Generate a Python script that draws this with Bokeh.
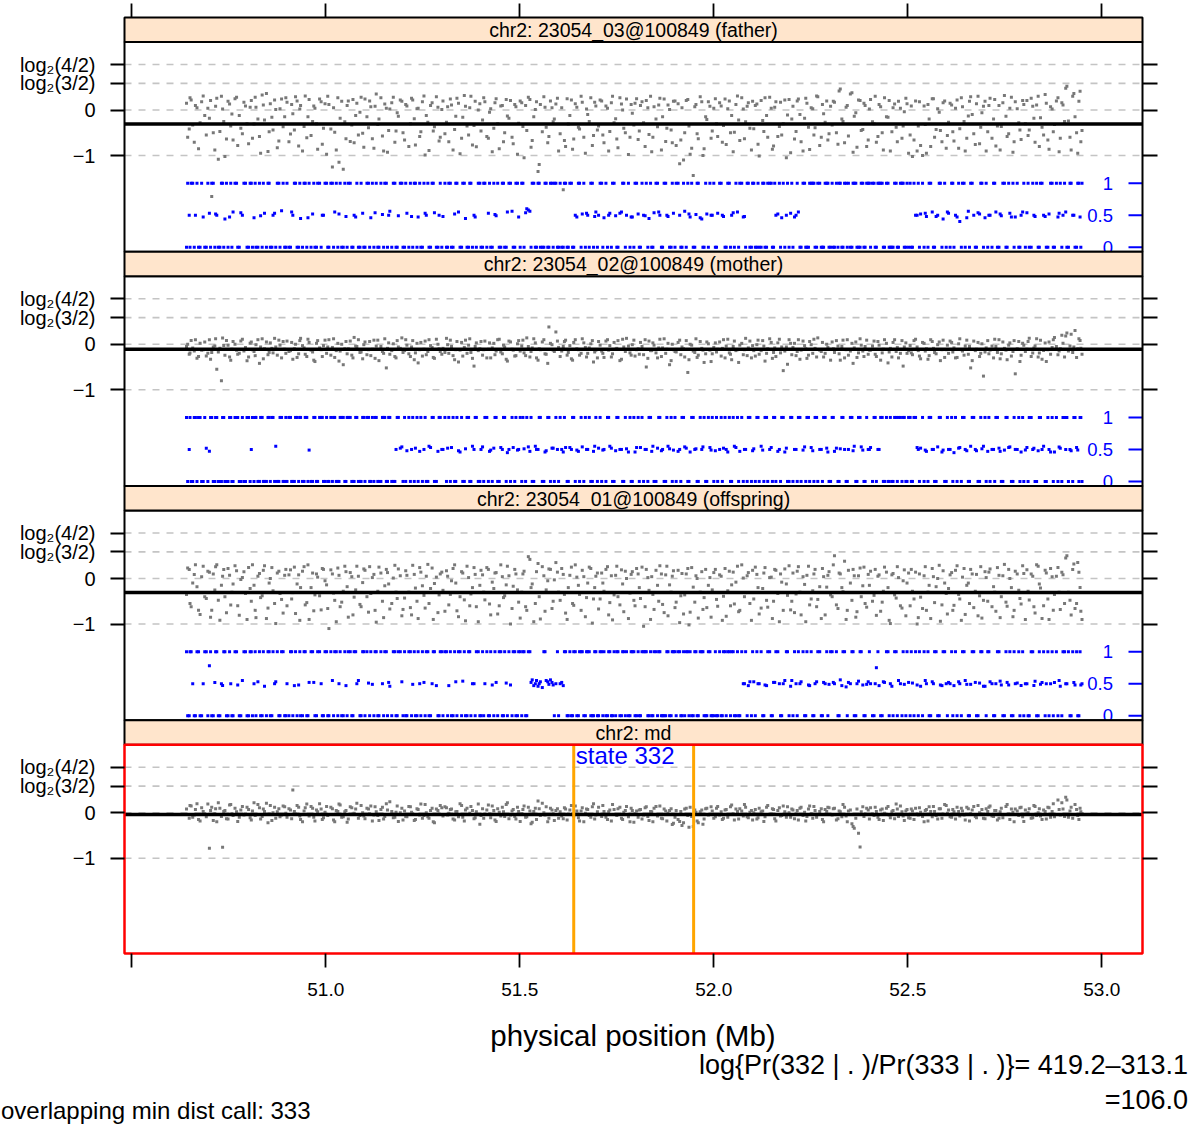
from bokeh.plotting import figure
from bokeh.layouts import column
from bokeh.models import Range1d, LinearAxis, FixedTicker, Div
from bokeh.core.properties import value
from bokeh.embed import file_html
from bokeh.resources import INLINE

# ---------------------------------------------------------------- data
# marker positions (Mb); two interleaved marker sets, one row per 0.1 Mb
pos_mb = [
    50.641, 50.648, 50.653, 50.661, 50.668, 50.676, 50.684, 50.692,
    50.700, 50.706, 50.714, 50.719, 50.727, 50.734, 50.740, 50.748, 50.755, 50.761, 50.770, 50.777, 50.785, 50.793,
    50.801, 50.808, 50.815, 50.820, 50.829, 50.836, 50.842, 50.851, 50.857, 50.864, 50.871, 50.879, 50.886, 50.894,
    50.900, 50.909, 50.915, 50.922, 50.930, 50.935, 50.944, 50.951, 50.957, 50.966, 50.972, 50.979, 50.988, 50.994,
    51.002, 51.008, 51.017, 51.023, 51.031, 51.037, 51.045, 51.052, 51.058, 51.067, 51.073, 51.080, 51.088, 51.095,
    51.101, 51.110, 51.116, 51.124, 51.130, 51.137, 51.146, 51.152, 51.159, 51.165, 51.174, 51.181, 51.187, 51.196,
    51.203, 51.209, 51.218, 51.224, 51.231, 51.238, 51.245, 51.253, 51.259, 51.266, 51.274, 51.280, 51.289, 51.295,
    51.302, 51.311, 51.317, 51.324, 51.332, 51.338, 51.346, 51.353, 51.360, 51.368, 51.374, 51.382, 51.388, 51.397,
    51.404, 51.410, 51.419, 51.425, 51.433, 51.439, 51.447, 51.455, 51.461, 51.468, 51.476, 51.483, 51.490, 51.497,
    51.505, 51.511, 51.518, 51.526, 51.532, 51.540, 51.547, 51.553, 51.562, 51.568, 51.575, 51.583, 51.589, 51.597,
    51.604, 51.612, 51.618, 51.625, 51.633, 51.639, 51.647, 51.654, 51.661, 51.669, 51.675, 51.683, 51.690, 51.696,
    51.703, 51.711, 51.717, 51.726, 51.732, 51.739, 51.747, 51.753, 51.762, 51.768, 51.775, 51.784, 51.790, 51.797,
    51.805, 51.811, 51.819, 51.826, 51.833, 51.840, 51.846, 51.855, 51.861, 51.868, 51.876, 51.882, 51.890, 51.896,
    51.903, 51.912, 51.918, 51.925, 51.933, 51.939, 51.947, 51.954, 51.960, 51.969, 51.975, 51.982, 51.990, 51.996,
    52.004, 52.010, 52.019, 52.025, 52.032, 52.040, 52.046, 52.053, 52.061, 52.067, 52.076, 52.082, 52.089, 52.097,
    52.103, 52.111, 52.117, 52.126, 52.132, 52.139, 52.148, 52.154, 52.160, 52.169, 52.175, 52.183, 52.190, 52.198,
    52.204, 52.212, 52.218, 52.225, 52.234, 52.240, 52.247, 52.255, 52.261, 52.268, 52.277, 52.283, 52.291, 52.297,
    52.305, 52.311, 52.320, 52.326, 52.333, 52.341, 52.347, 52.356, 52.362, 52.369, 52.377, 52.384, 52.390, 52.398,
    52.404, 52.413, 52.419, 52.426, 52.434, 52.440, 52.449, 52.455, 52.462, 52.470, 52.476, 52.485, 52.491, 52.498,
    52.506, 52.512, 52.520, 52.527, 52.533, 52.542, 52.548, 52.555, 52.563, 52.569, 52.577, 52.584, 52.591, 52.599,
    52.605, 52.613, 52.619, 52.627, 52.634, 52.641, 52.648, 52.656, 52.662, 52.670, 52.677, 52.685, 52.691, 52.699,
    52.706, 52.712, 52.721, 52.727, 52.735, 52.741, 52.749, 52.756, 52.763, 52.771, 52.777, 52.786, 52.792, 52.799,
    52.807, 52.813, 52.822, 52.828, 52.836, 52.842, 52.850, 52.857, 52.864, 52.872, 52.878, 52.887, 52.893, 52.900,
    52.907, 52.914, 52.921, 52.928, 52.935, 52.941, 52.946,
    50.644, 50.650, 50.657, 50.664, 50.672, 50.680, 50.688, 50.696,
    50.703, 50.710, 50.716, 50.723, 50.731, 50.737, 50.744, 50.752, 50.758, 50.766, 50.773, 50.781, 50.789, 50.797,
    50.805, 50.811, 50.818, 50.825, 50.832, 50.839, 50.847, 50.854, 50.861, 50.868, 50.875, 50.882, 50.890, 50.897,
    50.905, 50.912, 50.919, 50.926, 50.933, 50.940, 50.947, 50.954, 50.962, 50.969, 50.976, 50.984, 50.991, 50.998,
    51.005, 51.013, 51.020, 51.027, 51.034, 51.041, 51.049, 51.055, 51.063, 51.070, 51.077, 51.084, 51.091, 51.098,
    51.106, 51.113, 51.120, 51.127, 51.134, 51.142, 51.149, 51.156, 51.162, 51.170, 51.178, 51.184, 51.192, 51.199,
    51.206, 51.214, 51.221, 51.228, 51.235, 51.242, 51.249, 51.256, 51.263, 51.270, 51.277, 51.285, 51.292, 51.299,
    51.307, 51.314, 51.321, 51.328, 51.335, 51.342, 51.350, 51.357, 51.364, 51.371, 51.378, 51.385, 51.393, 51.400,
    51.407, 51.415, 51.422, 51.429, 51.436, 51.443, 51.451, 51.458, 51.465, 51.472, 51.480, 51.487, 51.494, 51.501,
    51.508, 51.515, 51.522, 51.529, 51.536, 51.543, 51.550, 51.558, 51.565, 51.572, 51.579, 51.586, 51.593, 51.600,
    51.608, 51.615, 51.622, 51.629, 51.636, 51.643, 51.651, 51.658, 51.665, 51.672, 51.679, 51.687, 51.693, 51.700,
    51.707, 51.714, 51.722, 51.729, 51.736, 51.743, 51.750, 51.758, 51.765, 51.772, 51.780, 51.787, 51.794, 51.801,
    51.808, 51.815, 51.823, 51.830, 51.837, 51.843, 51.851, 51.858, 51.865, 51.872, 51.879, 51.886, 51.893, 51.900,
    51.908, 51.915, 51.922, 51.929, 51.936, 51.943, 51.951, 51.957, 51.965, 51.972, 51.979, 51.986, 51.993, 52.000,
    52.007, 52.015, 52.022, 52.029, 52.036, 52.043, 52.050, 52.057, 52.064, 52.072, 52.079, 52.086, 52.093, 52.100,
    52.107, 52.114, 52.122, 52.129, 52.136, 52.144, 52.151, 52.157, 52.165, 52.172, 52.179, 52.187, 52.194, 52.201,
    52.208, 52.215, 52.222, 52.230, 52.237, 52.244, 52.251, 52.258, 52.265, 52.273, 52.280, 52.287, 52.294, 52.301,
    52.308, 52.316, 52.323, 52.330, 52.337, 52.344, 52.352, 52.359, 52.366, 52.373, 52.380, 52.387, 52.394, 52.401,
    52.409, 52.416, 52.423, 52.430, 52.437, 52.445, 52.452, 52.459, 52.466, 52.473, 52.481, 52.488, 52.495, 52.502,
    52.509, 52.516, 52.524, 52.530, 52.538, 52.545, 52.552, 52.559, 52.566, 52.573, 52.581, 52.588, 52.595, 52.602,
    52.609, 52.616, 52.623, 52.631, 52.638, 52.645, 52.652, 52.659, 52.666, 52.674, 52.681, 52.688, 52.695, 52.702,
    52.709, 52.717, 52.724, 52.731, 52.738, 52.745, 52.753, 52.760, 52.767, 52.774, 52.782, 52.789, 52.796, 52.803,
    52.810, 52.818, 52.825, 52.832, 52.839, 52.846, 52.854, 52.861, 52.868, 52.875, 52.883, 52.890, 52.897, 52.904,
    52.910, 52.918, 52.925, 52.931, 52.938, 52.944, 52.949,
]

# log R ratio per sample
lrr_father = [
    0.15, -0.42, 0.22, -0.71, 0.05, -0.28, 0.31, -0.55,
    -0.18, -1.9, -0.88, 0.26, -0.47, 0.02, -1.02, 0.19, -0.35, -0.66, 0.28, -0.12, -0.52, 0.09,
    -0.74, 0.21, -0.31, 0.06, -0.58, 0.33, -0.22, -0.91, 0.14, -0.44, 0.01, -0.68, 0.24, -0.15,
    0.17, -0.53, -0.08, 0.29, -0.79, 0.1, -0.36, -0.61, 0.23, -0.25, 0.04, -0.86, 0.18, -0.4,
    -0.97, 0.12, -1.25, -0.49, 0.27, -0.18, -1.3, -0.63, 0.2, -0.33, -0.72, 0.15, -0.05, -0.51,
    0.24, -0.39, 0.07, -0.84, 0.35, -0.2, -0.57, 0.13, -0.93, 0.02, 0.28, -0.46, -0.14, 0.19,
    -0.66, 0.09, -0.3, 0.22, -0.77, 0.04, -0.48, 0.31, -0.12, -0.89, 0.16, -0.37, 0.06, -0.6,
    0.2, -0.27, -0.7, 0.11, -0.43, 0.26, -0.96, -0.16, 0.08, -0.55, 0.3, -0.34, -0.81, 0.14,
    -0.22, 0.18, -0.62, 0.03, -0.4, 0.25, -0.85, 0.1, -0.5, -0.13, 0.21, -0.74, 0.07, -0.29,
    0.16, -1.05, -0.45, 0.23, -0.67, 0.01, -1.35, 0.12, 0.29, -0.38, -0.58, 0.05, -0.2, 0.26,
    -0.52, -1.75, -0.8, -0.31, 0.22, -0.64, 0.06, -0.42, 0.17, -0.95, -0.1, 0.27, -0.56, 0.09,
    -0.35, 0.2, -0.72, 0.04, -0.47, 0.3, -0.19, -0.83, 0.13, -0.4, 0.24, -0.6, -0.07, 0.15,
    -0.65, 0.1, -0.28, 0.21, -0.54, -0.92, 0.07, -0.37, 0.26, -0.15, -0.69, 0.11, -0.44, 0.19,
    -0.78, -1.18, 0.05, -0.5, 0.23, -0.97, -1.44, 0.12, -0.63, 0.18, -0.85, -0.21, 0.08, -0.46,
    0.25, -0.58, 0.09, -0.34, -0.76, 0.2, -0.12, -0.49, 0.31, -0.67, 0.02, -0.26, 0.16, -0.88,
    -0.41, 0.13, -1.01, -0.23, 0.27, -0.6, 0.04, -0.79, 0.18, -0.36, -0.55, 0.22, -0.11, -0.94,
    0.08, -0.47, 0.24, -0.7, -0.18, 0.15, -0.87, 0.03, -0.39, 0.29, -0.6, -0.08, 0.2, -0.52,
    -0.33, 0.17, -0.75, 0.46, -0.25, 0.06, -0.57, 0.38, -0.14, -0.82, 0.21, -0.43, 0.1, -0.66,
    0.23, -0.3, -0.71, 0.12, -0.5, 0.27, -0.16, -0.9, 0.05, -0.38, 0.19, -0.62, -0.04, 0.14,
    -0.55, -1.02, 0.2, -0.35, -0.78, 0.09, -0.95, -0.2, 0.25, -0.6, 0.03, -0.45, 0.16, -0.84,
    -0.27, 0.11, -0.68, 0.22, -0.41, 0.07, -0.9, -0.13, 0.29, -0.52, 0.14, -0.74, -0.06, 0.19,
    -0.48, 0.26, -0.2, -0.79, 0.1, -0.36, 0.32, -0.58, 0.04, -0.93, 0.18, -0.28, -0.65, 0.12,
    0.21, -0.44, 0.08, -0.71, 0.3, -0.17, -0.55, 0.15, -0.86, 0.02, -0.32, 0.27, -0.62, 0.11,
    0.48, -0.24, -0.88, 0.36, -0.5, 0.19, -0.7,
    -0.6, 0.27, -0.33, 0.1, -0.85, 0.18, -0.12, 0.04,
    0.21, -0.5, 0.08, -1.08, 0.3, -0.25, -0.64, 0.13, -0.09, 0.25, -0.78, -0.4, 0.17, -0.3,
    0.06, -0.62, 0.28, -0.2, -0.95, 0.11, 0.36, -0.48, -0.16, 0.22, -0.83, 0.03, -0.37, 0.27,
    -0.7, 0.12, -0.44, 0.2, 0.02, -0.9, 0.31, -0.15, -0.56, 0.09, -0.3, 0.24, -0.75, 0.14,
    0.3, -0.42, 0.05, -0.88, -1.15, 0.19, -0.26, 0.1, -0.69, 0.23, -0.12, -0.55, 0.28, -0.82,
    -0.15, 0.2, -0.63, 0.08, -0.32, 0.27, -0.9, 0.04, -0.45, 0.16, -0.71, -0.06, 0.22, -0.5,
    0.12, -0.8, 0.26, -0.19, 0.03, -0.58, 0.18, -0.99, -0.27, 0.1, -0.46, 0.29, -0.68, 0.01,
    -0.52, 0.07, 0.24, -0.88, -0.14, 0.15, -0.62, 0.32, -0.35, 0.05, -0.77, 0.19, 0.0, -0.46,
    0.27, -0.58, -0.05, -0.92, 0.16, -0.3, 0.09, -0.7, 0.23, -0.18, -0.6, 0.12, -0.97, 0.2,
    -0.36, 0.1, 0.28, -0.82, -0.15, 0.18, -1.2, -0.48, 0.06, -0.72, 0.2, -0.26, 0.13, -0.9,
    0.05, -0.67, 0.25, -0.12, -0.86, 0.14, -0.38, 0.3, -0.6, 0.02, -0.25, -0.78, 0.17, -0.44,
    0.22, -0.55, 0.09, -0.9, 0.16, -0.28, -0.64, 0.27, 0.0, -0.5, -0.98, 0.12, -0.33, 0.25,
    -0.46, 0.18, -0.8, 0.05, 0.3, -0.6, -0.2, 0.11, -0.88, 0.24, -0.4, 0.01, -0.72, 0.2,
    0.14, -0.66, -1.1, 0.21, -0.35, -0.84, 0.07, -0.52, 0.29, -1.0, -0.15, 0.18, -0.62, 0.04,
    -0.3, 0.16, -0.71, 0.24, 0.03, -0.5, -0.92, 0.12, -0.22, 0.27, -0.63, 0.08, -0.4, 0.19,
    0.1, -0.75, 0.21, -0.47, -0.12, 0.28, -0.86, 0.06, -0.58, 0.17, -0.3, -1.05, 0.23, -0.2,
    -0.64, 0.2, -0.1, -0.9, 0.26, -0.38, 0.05, -0.55, 0.31, -0.78, 0.12, -0.27, -0.66, 0.08,
    0.19, -0.5, 0.42, -0.2, -0.72, 0.1, 0.35, -0.93, -0.06, 0.22, -0.45, 0.15, -0.8, 0.02,
    -0.26, 0.3, -0.58, 0.07, -0.88, -0.15, 0.21, -0.48, 0.13, -0.7, 0.04, -0.35, 0.26, -0.95,
    0.09, -0.66, -0.9, 0.18, -1.0, -0.32, 0.12, -0.8, 0.25, -0.43, -0.05, -0.7, 0.2, -0.56,
    0.15, -0.48, 0.04, -0.84, 0.27, -0.25, -0.62, 0.19, -0.1, -0.76, 0.3, -0.38, 0.08, -0.9,
    0.1, -0.62, 0.23, -0.35, -0.88, 0.16, -0.14, -0.52, 0.28, -0.7, 0.03, -0.44, 0.21, -0.3,
    -0.56, 0.26, -0.18, 0.11, -0.8, -0.38, 0.34, -0.66, 0.07, -0.48, 0.2, -0.92, 0.16, -0.25,
    0.52, -0.6, 0.3, -0.15, -0.95, 0.41, -0.45,
]
lrr_mother = [
    -0.05, -0.22, 0.08, -0.15, -0.31, 0.02, -0.12, -0.26,
    0.1, -0.18, -0.04, -0.55, -0.09, 0.14, -0.24, -0.02, -0.35, 0.06, -0.13, -0.2, 0.11, -0.07,
    -0.28, 0.05, -0.16, -0.01, -0.42, 0.12, -0.1, -0.23, 0.03, -0.19, -0.06, 0.09, -0.3, -0.11,
    0.07, -0.14, -0.33, 0.0, -0.21, 0.13, -0.08, -0.27, 0.04, -0.17, -0.38, 0.08, -0.12, -0.03,
    -0.2, 0.1, -0.07, -0.29, 0.02, -0.15, -0.45, 0.06, -0.1, -0.24, 0.15, -0.05, -0.18, -0.32,
    0.05, -0.12, -0.25, 0.09, -0.04, -0.36, -0.16, 0.12, -0.09, -0.22, 0.01, -0.3, -0.06, 0.14,
    -0.14, -0.02, -0.27, 0.08, -0.19, -0.41, 0.04, -0.11, -0.23, 0.1, -0.07, -0.31, 0.0, -0.16,
    -0.09, 0.13, -0.2, -0.05, -0.34, 0.06, -0.13, -0.26, 0.09, -0.02, -0.18, -0.48, 0.03, -0.1,
    -0.24, 0.07, -0.11, -0.3, 0.02, -0.15, 0.11, -0.21, -0.06, -0.37, 0.05, -0.13, -0.25, 0.08,
    -0.04, -0.19, 0.14, -0.28, -0.08, 0.03, -0.35, -0.12, 0.1, -0.22, 0.38, -0.01, -0.16, 0.07,
    -0.27, -0.05, 0.09, -0.18, -0.32, 0.04, -0.1, -0.24, 0.12, -0.07, -0.2, 0.01, -0.39, -0.13,
    0.06, -0.15, -0.29, 0.1, -0.03, -0.21, -0.11, 0.08, -0.33, -0.06, 0.13, -0.19, -0.01, -0.26,
    -0.1, 0.04, -0.23, -0.5, 0.07, -0.14, -0.02, -0.3, 0.11, -0.08, -0.2, 0.02, -0.36, -0.12,
    -0.17, 0.09, -0.06, -0.28, -0.62, 0.0, -0.15, 0.12, -0.24, -0.09, -0.4, 0.05, -0.13, -0.21,
    0.03, -0.11, -0.26, 0.1, -0.04, -0.19, -0.34, 0.07, -0.12, -0.02, -0.23, 0.13, -0.08, -0.3,
    -0.14, -0.01, -0.22, 0.08, -0.37, -0.1, 0.04, -0.18, -0.27, 0.11, -0.06, -0.15, -0.44, 0.02,
    -0.07, -0.25, 0.1, -0.13, -0.03, -0.31, 0.06, -0.2, -0.09, 0.14, -0.16, -0.28, 0.0, -0.11,
    0.05, -0.18, -0.04, -0.35, 0.09, -0.12, -0.24, 0.02, -0.08, -0.29, 0.12, -0.15, -0.05, -0.22,
    -0.13, 0.07, -0.27, -0.02, -0.19, 0.1, -0.41, -0.09, 0.04, -0.16, -0.3, 0.08, -0.06, -0.2,
    -0.03, -0.23, 0.11, -0.14, -0.32, 0.02, -0.1, -0.25, 0.06, -0.18, -0.01, -0.36, 0.09, -0.12,
    -0.2, 0.04, -0.08, -0.29, 0.12, -0.15, -0.04, -0.22, -0.52, 0.07, -0.11, -0.27, 0.01, -0.17,
    0.08, -0.13, -0.3, -0.05, 0.1, -0.21, -0.09, -0.34, 0.03, -0.16, -0.65, 0.06, -0.24, -0.02,
    -0.11, 0.13, -0.19, -0.04, -0.28, 0.09, -0.14, -0.38, 0.05, -0.07, 0.15, -0.23, -0.1, 0.02,
    0.18, -0.15, 0.22, -0.06, -0.29, 0.12, -0.09,
    0.0, -0.19, -0.08, 0.1, -0.27, -0.13, 0.05, -0.2,
    -0.33, -0.06, 0.12, -0.17, -0.8, -0.03, 0.08, -0.28, -0.11, 0.0, -0.22, 0.07, -0.15, -0.36,
    0.02, -0.12, -0.25, 0.1, -0.06, -0.32, 0.05, -0.18, -0.09, 0.13, -0.24, -0.02, 0.06, -0.2,
    -0.16, 0.04, -0.1, -0.29, 0.08, -0.03, -0.22, 0.11, -0.13, -0.35, 0.02, -0.08, -0.27, 0.09,
    -0.06, -0.24, 0.12, -0.14, -0.37, 0.0, -0.1, -0.21, 0.07, -0.3, -0.04, 0.1, -0.17, -0.01,
    -0.23, 0.06, -0.11, -0.31, 0.09, -0.05, -0.2, -0.52, 0.03, -0.14, -0.27, 0.08, -0.09, -0.18,
    0.1, -0.21, -0.06, -0.34, 0.02, -0.12, -0.26, 0.07, -0.16, -0.03, -0.29, 0.11, -0.1, -0.22,
    -0.18, -0.01, 0.09, -0.25, -0.12, -0.39, 0.04, -0.07, -0.2, 0.12, -0.31, -0.05, -0.14, 0.06,
    -0.12, -0.3, 0.03, -0.08, -0.23, 0.1, -0.17, -0.02, -0.33, 0.07, -0.11, -0.26, 0.01, -0.15,
    0.09, -0.25, -0.05, -0.16, 0.12, -0.3, -0.1, 0.05, -0.21, -0.42, 0.02, -0.13, 0.27, -0.07,
    -0.15, 0.06, -0.24, -0.03, -0.35, 0.1, -0.12, -0.2, 0.03, -0.28, -0.08, 0.08, -0.17, -0.3,
    -0.02, -0.2, 0.07, -0.13, -0.28, 0.04, -0.09, -0.36, 0.11, -0.16, -0.04, -0.24, 0.09, -0.12,
    -0.22, -0.05, 0.1, -0.31, -0.14, 0.03, -0.19, -0.08, -0.27, 0.12, -0.11, -0.45, 0.0, -0.16,
    0.04, -0.23, -0.1, 0.08, -0.34, -0.02, -0.18, -0.29, 0.06, -0.13, -0.21, 0.01, -0.38, -0.07,
    -0.17, 0.05, -0.09, -0.3, 0.11, -0.22, -0.05, -0.14, -0.4, 0.02, -0.12, -0.25, 0.07, -0.03,
    -0.26, 0.09, -0.14, -0.04, -0.2, 0.12, -0.31, -0.08, 0.03, -0.19, -0.58, -0.06, 0.1, -0.23,
    0.02, -0.16, -0.33, 0.07, -0.1, -0.24, -0.01, 0.11, -0.28, -0.13, 0.04, -0.2, -0.07, -0.35,
    -0.1, 0.08, -0.21, -0.05, -0.3, 0.1, -0.15, -0.42, 0.05, -0.19, -0.02, -0.27, 0.09, -0.13,
    -0.04, -0.22, 0.06, -0.35, -0.11, 0.02, -0.17, -0.28, 0.1, -0.07, -0.2, -0.48, 0.03, -0.14,
    -0.19, 0.08, -0.06, -0.26, 0.04, -0.15, -0.33, 0.1, -0.09, -0.21, 0.05, -0.12, -0.29, -0.02,
    0.07, -0.17, -0.3, 0.01, -0.12, -0.24, 0.09, -0.05, -0.36, -0.14, 0.04, -0.2, -0.7, -0.08,
    -0.21, -0.04, 0.11, -0.18, -0.32, 0.05, -0.13, -0.02, -0.26, 0.08, -0.1, -0.38, 0.02, -0.16,
    0.06, -0.27, -0.08, 0.12, -0.19, -0.33, 0.03, -0.12, -0.22, 0.1, -0.05, -0.15, 0.2, -0.28,
    0.25, -0.04, -0.18, 0.3, -0.1, 0.08, -0.22,
]
lrr_offspring = [
    -0.35, 0.2, -0.62, 0.09, -0.18, -0.79, 0.27, -0.44,
    0.14, -0.7, -0.25, 0.3, -0.92, 0.05, -0.4, 0.22, -0.58, -0.12, 0.17, -0.81, 0.02, -0.33,
    0.24, -0.5, -0.15, -0.86, 0.11, -0.38, 0.28, -0.65, 0.0, -0.27, -0.99, 0.16, -0.46, 0.07,
    -0.6, 0.19, -0.31, -0.77, 0.08, -0.2, 0.26, -0.53, -0.9, 0.12, -0.36, 0.03, -0.69, 0.2,
    -0.14, -1.1, 0.1, -0.48, 0.23, -0.62, -0.28, 0.15, -0.85, 0.04, -0.41, 0.27, -0.57, -0.09,
    0.18, -0.74, -0.33, 0.09, -0.96, 0.25, -0.5, -0.16, 0.13, -0.67, 0.01, -0.3, 0.21, -0.82,
    -0.43, 0.07, -0.64, 0.29, -0.21, -0.88, 0.14, -0.37, 0.05, -0.55, 0.23, -0.11, -0.75, 0.1,
    -0.26, 0.17, -0.58, -0.05, 0.3, -0.71, -0.4, 0.12, -0.93, 0.02, -0.34, 0.24, -0.62, -0.15,
    0.08, -0.47, 0.2, -0.8, -0.22, 0.13, -0.6, 0.04, -0.38, 0.27, -1.0, -0.17, 0.1, -0.52,
    -0.3, 0.16, -0.7, 0.42, -0.12, -0.55, 0.33, -0.89, 0.06, -0.25, 0.21, -0.66, -0.03, 0.14,
    -0.48, 0.09, -0.76, -0.2, 0.25, -0.59, 0.03, -0.35, 0.18, -0.84, -0.1, 0.22, -0.45, 0.05,
    -0.67, 0.12, -0.28, 0.26, -0.53, -0.91, 0.07, -0.4, 0.19, -0.73, 0.0, -0.32, 0.15, -0.6,
    0.1, -0.44, -1.05, 0.2, -0.26, 0.04, -0.68, -0.15, 0.28, -0.57, 0.08, -0.82, -0.3, 0.17,
    -0.52, -0.97, 0.11, -0.36, 0.22, -0.74, -0.19, 0.06, -0.87, 0.15, -0.42, -0.64, 0.02, -0.25,
    0.2, -0.61, 0.05, -0.39, -0.83, 0.16, -0.14, -0.56, 0.27, -0.7, 0.01, -0.31, 0.13, -0.92,
    -0.45, 0.09, -0.78, -0.22, 0.24, -0.63, 0.03, -0.5, 0.18, -0.95, -0.08, 0.21, -0.37, -0.69,
    0.12, -0.34, 0.26, -0.8, -0.13, 0.07, -0.58, -0.27, 0.2, -0.46, -0.88, 0.04, -0.19, 0.15,
    -0.4, 0.5, -0.66, 0.1, -0.29, -0.9, 0.18, -0.48, 0.06, -0.73, 0.23, -0.16, -0.55, 0.09,
    0.16, -0.37, -0.81, 0.08, -0.52, 0.25, -0.2, -0.99, 0.11, -0.43, 0.02, -0.65, 0.19, -0.1,
    -0.6, -0.28, 0.14, -0.86, -0.41, 0.06, -0.7, -0.15, 0.22, -0.53, 0.0, -0.94, 0.17, -0.33,
    -0.22, 0.13, -0.59, 0.28, -0.45, 0.03, -0.79, -0.1, 0.2, -0.64, 0.09, -0.38, -0.87, 0.15,
    -0.5, 0.21, -0.18, -0.72, 0.07, -0.4, 0.31, -0.61, 0.0, -0.84, 0.16, -0.26, -0.56, 0.11,
    0.19, -0.47, 0.05, -0.76, 0.27, -0.21, -0.6, 0.12, -0.9, 0.04, -0.35, 0.24, -0.68, 0.08,
    0.45, -0.3, -0.8, 0.32, -0.55, 0.14, -0.72,
    0.23, -0.55, -0.1, 0.3, -0.7, 0.04, -0.4, 0.16,
    -0.85, 0.1, 0.26, -0.48, -0.15, 0.2, -0.75, 0.07, -0.3, 0.28, -0.6, -0.02, 0.15, -0.9,
    -0.22, 0.3, -0.7, 0.05, -0.42, 0.18, -0.88, -0.1, 0.24, -0.55, 0.12, -0.33, -0.76, 0.2,
    0.08, -0.45, 0.25, -0.12, -0.92, 0.16, -0.58, 0.3, -0.2, -0.71, 0.1, -0.38, 0.22, -0.05,
    -0.66, 0.19, -0.32, -0.95, 0.07, -0.52, 0.27, -0.18, 0.13, -0.8, -0.25, 0.05, -0.62, 0.21,
    -0.4, 0.26, 0.02, -0.7, -0.28, 0.12, -0.86, 0.2, -0.12, -0.55, 0.29, -0.44, 0.06, -0.68,
    0.17, -0.3, -0.8, 0.09, -0.5, 0.24, -0.16, -0.65, 0.31, -0.22, -0.9, 0.03, -0.36, 0.14,
    -0.72, 0.05, -0.35, 0.22, -0.1, -0.84, 0.15, -0.47, 0.27, -0.6, -0.2, 0.09, -0.95, 0.18,
    -0.3, 0.24, -0.56, -0.08, 0.12, -0.78, 0.3, -0.42, -0.14, 0.06, -0.66, 0.2, -0.25, -0.87,
    0.1, -0.62, 0.48, -0.2, -0.95, 0.15, -0.4, 0.26, -0.72, -0.05, 0.2, -0.5, 0.35, -0.3,
    0.22, -0.35, -0.9, 0.07, -0.55, 0.3, -0.15, -0.7, 0.04, -0.42, 0.25, -0.98, -0.2, 0.12,
    -0.45, -0.1, 0.2, -0.8, 0.06, -0.36, 0.27, -0.58, -0.12, 0.16, -0.88, 0.09, -0.48, 0.22,
    -0.2, 0.25, -0.62, 0.02, -0.9, -0.35, 0.18, -0.5, 0.1, -0.75, 0.27, -0.14, 0.05, -0.64,
    0.18, -0.38, -0.78, 0.1, -1.02, 0.24, -0.52, 0.0, -0.3, -0.68, 0.2, -0.15, -0.85, 0.13,
    -0.46, 0.08, -0.92, 0.22, -0.27, -0.6, 0.14, -0.08, -0.73, 0.3, -0.4, 0.06, -0.55, 0.18,
    0.25, -0.2, -0.65, 0.12, -0.48, 0.02, -0.88, 0.2, -0.33, 0.1, -0.7, -0.12, 0.28, -0.5,
    -0.75, 0.16, -0.3, 0.04, -0.95, 0.27, -0.45, 0.1, -0.62, -0.18, 0.22, -0.8, 0.07, -0.36,
    0.3, -0.58, 0.12, -0.2, 0.38, -0.7, -0.1, 0.2, -0.85, 0.06, -0.4, 0.25, -0.63, -0.15,
    -0.5, 0.2, 0.05, -0.72, -0.28, 0.14, -0.92, 0.08, -0.36, 0.26, -0.6, -0.05, -0.82, 0.12,
    0.2, -0.45, -1.0, 0.1, -0.66, 0.26, -0.3, -0.88, 0.04, -0.18, 0.29, -0.58, -0.1, -0.78,
    0.08, -0.7, 0.18, -0.35, -0.92, 0.22, -0.15, -0.55, 0.1, -0.28, -0.82, 0.26, -0.48, 0.02,
    0.14, -0.62, -0.3, 0.24, -0.86, 0.06, -0.52, 0.2, -0.2, -0.7, 0.1, -0.44, 0.28, -0.9,
    -0.28, 0.1, -0.62, 0.3, -0.12, -0.88, 0.18, -0.45, 0.22, -0.7, 0.05, -0.3, 0.14, -0.55,
    0.5, -0.48, 0.2, -0.66, 0.35, -0.2, -0.9,
]
lrr_md = [
    0.08, -0.12, 0.15, -0.05, 0.2, -0.18, 0.03, -0.09,
    -0.78, 0.12, -0.02, -0.2, 0.1, -0.76, 0.05, -0.14, 0.18, -0.06, 0.02, -0.1, 0.14, -0.03,
    0.07, -0.16, 0.22, -0.04, 0.11, -0.08, 0.03, -0.22, 0.16, 0.0, -0.12, 0.09, -0.05, 0.13,
    -0.1, 0.06, 0.5, -0.03, 0.12, -0.15, 0.04, 0.19, -0.07, 0.1, -0.18, 0.02, 0.08, -0.11,
    0.14, -0.04, 0.09, -0.2, 0.03, 0.17, -0.09, 0.05, -0.14, 0.11, -0.01, 0.21, -0.06, 0.0,
    -0.13, 0.08, 0.15, -0.05, 0.02, -0.17, 0.12, -0.08, 0.06, 0.24, -0.11, 0.01, -0.19, 0.1,
    0.04, -0.09, 0.13, -0.02, -0.15, 0.07, 0.19, -0.06, 0.0, -0.12, 0.1, -0.22, 0.05, 0.16,
    -0.07, 0.11, -0.01, 0.08, -0.16, 0.03, 0.2, -0.1, 0.06, -0.04, 0.14, -0.13, 0.02, -0.25,
    0.09, -0.03, 0.17, -0.11, 0.05, -0.19, 0.01, 0.12, -0.08, 0.22, -0.05, 0.07, -0.14, 0.03,
    -0.02, 0.15, -0.09, 0.04, -0.21, 0.1, 0.26, -0.06, 0.0, 0.13, -0.12, 0.06, -0.17, 0.09,
    0.02, -0.13, 0.08, -0.03, 0.16, -0.07, 0.04, -0.18, 0.11, -0.01, 0.07, -0.1, 0.2, -0.05,
    0.12, -0.08, 0.03, -0.15, 0.06, 0.18, -0.04, 0.09, -0.12, 0.01, 0.14, -0.2, 0.05, -0.02,
    -0.1, 0.07, -0.05, 0.13, -0.17, 0.02, 0.1, -0.07, 0.15, -0.13, 0.04, -0.01, 0.09, -0.23,
    0.05, -0.19, -0.28, 0.08, -0.06, 0.12, -0.3, 0.01, -0.22, 0.06, -0.14, 0.1, -0.03, 0.04,
    -0.09, 0.14, 0.02, -0.12, 0.07, -0.04, 0.17, -0.16, 0.03, 0.09, -0.07, 0.12, -0.11, 0.05,
    0.0, -0.14, 0.1, 0.04, -0.09, 0.16, -0.03, 0.07, -0.18, 0.11, -0.06, 0.02, 0.13, -0.1,
    0.06, -0.02, -0.16, 0.12, 0.01, -0.08, 0.15, -0.12, 0.05, -0.04, 0.09, -0.2, 0.03, 0.11,
    -0.05, 0.1, -0.13, 0.02, 0.18, -0.07, 0.04, -0.24, -0.34, 0.08, -0.75, 0.13, -0.02, 0.06,
    0.11, -0.06, 0.03, -0.15, 0.08, -0.01, 0.14, -0.11, 0.05, 0.19, -0.08, 0.02, -0.17, 0.07,
    -0.12, 0.04, 0.1, -0.05, 0.01, -0.2, 0.07, 0.13, -0.09, 0.03, -0.14, 0.09, -0.03, 0.16,
    0.06, -0.1, 0.02, 0.12, -0.07, 0.04, -0.16, 0.09, -0.02, 0.14, -0.11, 0.0, 0.07, -0.13,
    0.03, 0.15, -0.08, 0.05, -0.12, 0.1, -0.04, 0.18, -0.15, 0.01, 0.08, -0.06, 0.12, -0.19,
    -0.03, 0.09, -0.11, 0.14, 0.0, -0.07, 0.06, -0.14, 0.11, 0.03, -0.09, 0.28, -0.05, 0.08,
    0.34, -0.1, 0.12, -0.04, 0.07, -0.15, 0.02,
    -0.04, 0.16, -0.1, 0.07, -0.15, 0.11, -0.02, 0.19,
    0.05, -0.17, 0.09, 0.22, -0.08, 0.03, -0.13, 0.17, -0.02, 0.1, -0.19, 0.06, -0.05, 0.12,
    -0.11, 0.04, -0.06, 0.18, -0.14, 0.08, 0.21, -0.03, -0.17, 0.12, 0.02, -0.09, 0.15, -0.01,
    0.09, -0.13, 0.03, 0.16, -0.07, -0.2, 0.11, -0.04, 0.14, -0.1, 0.06, 0.2, -0.15, 0.01,
    -0.06, 0.12, -0.16, 0.05, 0.19, -0.1, 0.02, -0.21, 0.13, -0.03, 0.08, -0.12, 0.16, -0.07,
    0.1, -0.02, -0.18, 0.13, -0.06, 0.07, -0.14, 0.2, -0.04, 0.03, -0.1, 0.15, 0.0, -0.16,
    -0.08, 0.14, 0.01, -0.17, 0.09, -0.05, -0.12, 0.18, -0.09, 0.05, -0.2, 0.08, -0.03, 0.11,
    0.13, -0.05, 0.07, -0.14, 0.02, -0.09, 0.16, -0.18, 0.1, -0.01, 0.05, -0.11, 0.19, -0.06,
    -0.12, 0.06, -0.03, 0.15, -0.16, 0.09, -0.07, 0.02, 0.18, -0.13, 0.04, -0.08, 0.12, -0.19,
    0.07, -0.1, 0.12, -0.24, 0.03, -0.15, 0.09, 0.21, -0.05, -0.2, 0.1, -0.02, 0.05, -0.12,
    -0.07, 0.11, -0.16, 0.06, -0.03, 0.15, -0.11, 0.04, -0.2, 0.08, -0.06, 0.13, -0.14, 0.02,
    -0.04, 0.16, -0.1, 0.02, -0.18, 0.07, -0.06, 0.12, -0.15, 0.05, -0.09, 0.1, -0.21, 0.04,
    0.06, -0.14, 0.11, -0.08, 0.03, -0.2, 0.14, -0.04, -0.12, 0.08, -0.18, 0.05, -0.26, -0.1,
    -0.15, 0.03, -0.22, 0.1, -0.32, -0.08, 0.06, -0.18, 0.02, -0.25, 0.09, -0.05, 0.13, -0.12,
    0.1, -0.05, -0.15, 0.06, -0.1, 0.13, -0.02, 0.08, -0.14, 0.04, 0.18, -0.09, 0.01, -0.16,
    0.07, -0.11, 0.02, -0.19, 0.12, -0.04, 0.09, -0.13, 0.05, -0.07, 0.15, -0.1, 0.0, 0.08,
    -0.13, 0.05, 0.1, -0.06, -0.18, 0.08, -0.02, 0.14, -0.1, 0.03, -0.15, 0.07, 0.12, -0.04,
    0.09, -0.16, 0.04, -0.09, 0.12, -0.2, 0.06, -0.3, -0.12, -0.45, 0.02, -0.08, 0.1, -0.14,
    -0.03, 0.12, -0.1, 0.06, -0.17, 0.1, -0.05, 0.02, -0.13, 0.08, 0.15, -0.07, 0.04, -0.11,
    0.08, -0.15, -0.02, 0.11, -0.08, 0.05, -0.18, 0.03, 0.14, -0.06, 0.09, -0.12, 0.18, -0.01,
    -0.09, 0.07, -0.14, 0.03, 0.1, -0.05, 0.12, -0.18, 0.06, -0.08, 0.16, -0.03, -0.12, 0.09,
    0.12, -0.07, 0.05, -0.16, 0.02, -0.11, 0.14, -0.03, 0.08, -0.2, 0.04, 0.11, -0.09, 0.06,
    0.0, -0.12, 0.16, -0.06, 0.09, -0.15, 0.03, 0.12, -0.1, 0.2, -0.04, 0.07, 0.22, -0.08,
    0.28, 0.04, -0.12, 0.18, -0.06, 0.1, -0.02,
]

# B allele frequency per sample (the md panel has none)
baf_father = [
    0, .5, 1, 0, 1, 0, .47, 0,
    .53, 1, 0, .5, 0, 1, .44, 0, 1, .55, 1, 0, .5, 1,
    0, 1, .46, 0, 1, 0, .53, 1, 0, .5, 0, 1, .57, 0,
    1, 0, .5, 1, 0, .45, 1, 0, 1, .52, 0, 1, 0, .5,
    1, 0, 1, .55, 0, 1, 0, .48, 1, 0, .5, 1, 0, .53,
    0, 1, .46, 0, 1, 0, .51, 1, 0, .56, 1, 0, .49, 1,
    0, .53, 1, 0, 1, .47, 0, 1, .5, 0, 1, .54, 0, 1,
    .48, 0, 1, 0, .52, 1, 0, 1, .45, 0, 1, .5, 0, 1,
    0, 1, .53, 0, 1, .49, 0, 1, 0, .55, 1, 0, 1, .47,
    1, 0, .6, .56, 1, 0, 1, 0, 0, 1, 0, 1, 1, 0,
    1, 0, 1, 0, 1, 0, .47, 1, .52, 0, .5, 1, 0, .55,
    .5, 1, .46, 0, .53, 1, .49, 0, .55, 1, .5, 0, .47, 1,
    .52, 0, .5, 1, .45, 0, .54, 1, .5, 0, 1, .48, 0, .53,
    1, .5, 0, .56, 1, .47, 0, .51, 1, .44, 0, .52, 1, .5,
    0, .53, 1, .48, 0, 1, .5, 0, .55, 1, .47, 0, 1, 0,
    1, 0, 0, 1, 0, 1, 1, 0, .5, 1, .46, 0, 1, .53,
    0, .5, .55, 0, 1, 0, 1, 1, 0, 1, 0, 0, 1, 0,
    1, 0, 0, 1, 0, 1, 1, 0, 1, 0, 0, 1, 0, 1,
    0, 1, 0, 1, 1, 0, 1, 0, 0, 1, 0, 1, 0, 1,
    1, 0, .5, 1, .52, 0, .48, 1, .55, 0, .5, 1, .44, 0,
    .53, 1, 0, .47, .4, 1, 0, .56, 1, .5, 0, .52, 1, .46,
    0, .5, 1, .55, 0, .49, 1, 0, .53, 1, .47, 0, .5, 1,
    .54, 0, 1, .48, 0, 1, .5, 0, .52, 1, 0, .47, 1, .5,
    .55, 0, 1, .5, 0, 1, 0,
    1, 0, 1, .5, 0, 1, 0, 1,
    0, 1, .52, 0, 1, 0, 1, .47, 0, 1, 0, .54, 1, 0,
    1, 0, 1, 0, .49, 1, 0, 1, 0, .53, 1, 0, 1, 0,
    0, .55, 1, 0, 1, 0, 1, .46, 0, 1, 0, 1, .5, 1,
    0, 1, 0, 1, .52, 0, 1, 0, 1, 0, .47, 0, 1, 0,
    1, 0, 1, .54, 0, 1, 0, 1, .5, 0, 1, 0, 1, 0,
    1, 0, .48, 1, 0, 1, 0, .53, 1, 0, 1, 0, .5, 0,
    1, 0, 1, 0, 1, .55, 0, 1, 0, 1, 0, .47, 1, 0,
    1, 0, 1, 0, .51, 1, 0, 1, 0, 1, .56, 0, 1, 0,
    1, .54, .58, 0, 1, 0, 1, 0, 1, 0, 1, 0, 1, 0,
    0, 1, 0, 1, 0, .5, 1, 0, 1, .53, 0, 1, .48, 0,
    1, 0, 1, .5, 0, 1, 0, .53, 1, 0, 1, .47, 0, 1,
    0, 1, .49, 0, 1, 0, 1, .55, 0, 1, .5, 0, 1, 0,
    1, 0, 1, 0, .52, 1, 0, 1, .46, 0, 1, 0, .5, 1,
    0, 1, .5, 0, 1, 0, .54, 1, 0, 1, .48, 1, 0, 1,
    0, 1, 0, 1, 0, 1, 0, 1, .52, 0, 1, .5, 0, 1,
    .47, 1, 0, 1, 0, 0, 1, 1, 0, 1, 0, 1, 1, 0,
    0, 1, 1, 0, 1, 0, 0, 1, 1, 0, 1, 0, 1, 1,
    1, 0, 1, 1, 0, 1, 0, 0, 1, 0, 1, 1, 0, 0,
    0, 1, .5, 0, 1, .53, 0, 1, 0, .48, 1, 0, 1, .55,
    0, 1, .5, 1, 0, 1, .46, 0, 1, 0, .54, 1, 0, 1,
    .5, 0, 1, 0, .52, 1, 0, 1, .47, 0, 1, 0, .55, 0,
    1, 0, .5, 1, 0, 1, .48, 0, 1, 0, 1, .53, 0, 1,
    0, 1, .5, 0, 1, .47, 1,
]
baf_mother = [
    1, .5, 0, 1, 0, 1, 0, .52,
    .47, 1, 0, 1, 0, 1, 0, 0, 1, 0, 1, 0, 1, 0,
    1, .5, 0, 1, 0, 1, 0, 1, 0, 1, .55, 0, 1, 0,
    0, 1, 0, 1, 0, 1, 0, 1, .49, 0, 1, 0, 1, 0,
    1, 0, 0, 1, 0, 1, 1, 0, 1, 0, 0, 1, 0, 1,
    0, 1, 0, 0, 1, 0, 1, 1, 0, 1, 0, .5, 1, .54,
    1, .48, 0, 1, .52, 0, 1, .5, 0, .55, 1, 0, .47, 1,
    .5, 0, 1, .53, 0, 1, .46, 0, .51, 1, 0, .5, 1, 0,
    .54, 1, 0, .49, .52, 1, 0, .5, 1, .45, 0, .53, 1, .5,
    0, .51, 1, .47, 0, .55, .5, 1, 0, .48, 1, .52, 0, .5,
    1, .46, .53, 0, .5, 1, .49, 0, .54, 1, .5, 0, .47, 1,
    .52, 0, .5, 1, .55, 0, .48, 1, .5, 0, .51, 1, 0, .46,
    1, .53, 0, .5, 1, .47, 0, .52, 1, .5, 0, .55, 1, .49,
    0, .5, 1, .54, 0, .46, 1, .51, 0, .5, 1, 0, .53, 1,
    .48, 0, 1, .52, .5, 1, 0, .55, 1, .47, 0, .5, 1, 0,
    .51, 1, 0, .49, 1, 0, .53, 1, 0, .5, 1, .46, 0, 1,
    0, .5, 1, 0, .54, 1, 0, .48, 1, 0, .5, 1, .52, 0,
    1, .47, 0, .51, 1, 0, .5, 1, .55, 0, 1, .49, 0, .5,
    .53, 1, 0, .5, 1, 0, 0, 1, 0, 1, 1, 0, 1, 0,
    1, 0, 1, .5, .52, 0, .47, 1, .5, 0, .54, 1, .49, 0,
    .5, 1, .45, 0, .53, 1, .5, 0, .55, 1, .48, 0, .51, 1,
    .47, 0, .5, 1, .52, 0, .49, 1, .54, 0, .5, 1, .46, 0,
    .53, 1, .5, 0, .48, 1, .55, 0, .5, 1, .46, 0, .52, 1,
    .5, 0, .48, 1, .53, 0, 1,
    0, 1, 0, 1, 1, 0, 1, 0,
    1, 0, 1, 0, 0, 1, 0, 1, 0, 1, 1, 0, 0, 1,
    0, 1, 1, 0, 1, 0, 0, 1, 1, 0, 0, 1, 0, 1,
    1, 0, 0, 1, 1, 0, 1, 0, 0, 1, 0, 1, 1, 0,
    0, 1, 1, 0, 0, 1, 0, 1, 1, 0, 1, 0, 0, 1,
    1, 0, 1, 1, 0, 0, 1, 0, 1, 0, 0, 1, .52, 0,
    0, 1, .5, 0, 1, .47, 0, 1, 0, .53, 1, 0, 1, .5,
    1, .52, 0, 1, 0, .48, 1, 0, 1, 0, .55, 1, 0, .5,
    0, 1, .47, 0, 1, 0, .53, 1, 0, .5, 1, 0, .49, 1,
    1, 0, .54, 1, 0, .5, 1, 0, .46, 1, 0, .52, 1, 0,
    .5, 1, 0, .53, 1, 0, .47, 1, 0, .5, 1, 0, .55, 0,
    1, .49, 0, 1, .52, 0, 1, .5, 0, 1, .46, 0, 1, .53,
    0, 1, .5, 0, 1, .55, 0, 1, .48, 0, 1, .51, 0, 1,
    .47, 0, 1, .52, 0, 1, .5, 0, 1, .54, 0, 1, .49, 0,
    1, .5, 0, 1, .46, 0, 1, .53, 0, 1, .5, 0, 1, .48,
    0, 1, .55, 0, 1, .5, 0, 1, .47, 0, 1, .52, 0, 1,
    .5, 0, 1, .49, 0, 1, .53, 0, 1, .5, 0, 1, .46, 0,
    1, .52, 0, 1, .5, 0, 1, .48, 0, 1, .54, 0, 1, .5,
    0, 1, .5, 1, 0, 1, 0, 0, 1, 0, 1, 1, 0, 1,
    0, 1, .53, 0, 1, .49, 0, 1, .5, 0, 1, .46, 0, 1,
    .5, 0, 1, .52, 0, 1, .48, 0, 1, .5, 0, 1, .55, 0,
    1, .5, 0, 1, .47, 0, 1, .53, 0, 1, .5, 0, 1, .49,
    0, 1, .52, 0, 1, .5, 0, 1, .46, 0, 1, .54, 0, 1,
    1, .5, 0, 1, .49, 1, 0,
]
baf_offspring = [
    1, 0, 1, 0, 1, 0, .5, 1,
    .78, 0, .52, 1, 0, .47, 1, 0, .5, 0, 1, 0, .55, 1,
    0, 1, .5, 0, 1, 0, .46, 1, 0, 1, .53, 0, 1, 0,
    .5, 1, 0, 1, .48, 0, 1, 0, .52, 1, 0, 1, .5, 0,
    1, 0, .55, 1, 0, 1, 0, .47, 1, 0, 1, .5, 0, 1,
    0, .51, 1, 0, 1, 0, .5, 1, 0, .46, 1, 0, 1, .53,
    1, 0, 1, .49, 0, 1, 0, .52, 1, 0, .5, 1, 0, 1,
    0, 1, .47, 0, 1, 0, 1, .54, 0, 1, 0, .5, 1, 0,
    1, .5, 0, 1, 0, .52, 1, 0, 1, 0, .48, 1, 0, 1,
    0, 1, 0, 1, .56, .5, .46, .53, 1, .55, .49, .52, 0, 1,
    .5, .47, 1, 0, 0, 1, 0, 1, 1, 0, 1, 0, 0, 1,
    0, 1, 1, 0, 1, 0, 0, 1, 0, 1, 1, 0, 1, 0,
    1, 0, 1, 1, 0, 0, 1, 0, 1, 0, 0, 1, 0, 1,
    0, 1, 0, 0, 1, 1, 0, 1, 0, 1, 0, 0, 1, 0,
    1, 0, 0, 1, 0, 1, 1, 0, 1, 0, .5, 1, .47, 0,
    .53, 1, .5, 0, .48, 1, 0, .52, 1, .5, 0, .55, 1, .46,
    0, .5, 1, .53, 0, 1, .47, 0, .5, 1, 0, .52, 1, .49,
    1, .5, 0, .56, 1, .45, .52, 1, 0, .5, 1, .48, 0, .53,
    .5, 0, .75, .47, 0, .52, 1, .5, 0, 1, .55, 0, .49, 1,
    0, .51, 1, 0, .46, 1, .5, 0, .53, 1, 0, .48, 1, .5,
    .52, 1, .47, 0, .5, 1, .55, 0, .49, 1, 0, .51, 1, .46,
    1, .53, 0, .5, 1, .48, 0, .52, 1, 0, .5, 1, .47, 0,
    .5, 0, 1, .54, 0, .49, 1, .5, 0, 1, .52, 0, .46, 1,
    .5, 1, 0, .52, 1, 0, .48,
    0, 1, .5, 0, 1, 0, 1, 0,
    1, 0, 1, 0, .5, 1, 0, 1, 0, 1, .48, 0, 1, 0,
    1, 0, 1, .53, 0, 1, 0, 1, 0, .5, 1, 0, 1, 0,
    0, 1, .47, 0, 1, 0, 1, 0, 1, .52, 0, 1, 0, 1,
    0, 1, 0, 1, .5, 0, 1, 0, 1, 0, 1, .55, 0, 1,
    1, 0, .49, 1, 0, 1, 0, 1, .52, 0, 1, 0, 1, 0,
    0, 1, 0, 1, 0, .5, 1, 0, 1, 0, 1, .47, 0, 1,
    1, 0, 1, 0, .53, 1, 0, 1, 0, 1, .5, 0, 1, 0,
    0, 1, 0, .48, 1, 0, 1, 0, .51, 1, 0, 1, 0, 1,
    1, 0, 1, .52, .47, .55, .5, .44, 1, .53, .56, .48, .5, 0,
    .52, 1, 0, 1, 0, 1, 0, 1, 0, 1, 1, 0, 1, 0,
    1, 0, 0, 1, 0, 1, 1, 0, 1, 0, 0, 1, 1, 0,
    0, 1, 1, 0, 1, 0, 1, 1, 0, 0, 1, 0, 1, 1,
    1, 0, 1, 1, 0, 0, 1, 0, 1, 1, 0, 1, 0, 0,
    0, 1, 0, 1, 1, 0, 1, 0, 0, 1, .5, 0, .53, 1,
    0, .5, 1, 0, .47, 1, 0, .52, 1, 0, .5, 1, 0, .55,
    1, 0, .5, 1, 0, .48, 1, 0, .53, 1, 0, .5, 0, 1,
    .52, 1, 0, .47, 1, 0, .5, 1, 0, .54, 1, 0, .49, 1,
    0, .5, 1, 0, .53, 1, 0, .46, 1, 0, .5, 1, 0, .52,
    1, 0, .48, 1, 0, .55, 1, 0, .5, 1, 0, .47, 1, 0,
    .5, 0, 1, .53, 0, 1, .49, 0, 1, .52, 0, 1, .46, 0,
    1, .5, 0, 1, .54, 0, 1, .48, 0, 1, .51, 0, 1, .5,
    0, 1, .47, 0, 1, .52, 0, 1, .5, 0, 1, .55, 0, 1,
    .5, 0, 1, .48, 0, 1, .5,
]

panel_titles = [
    "chr2: 23054_03@100849 (father)",
    "chr2: 23054_02@100849 (mother)",
    "chr2: 23054_01@100849 (offspring)",
    "chr2: md",
]
lrr_panels = [lrr_father, lrr_mother, lrr_offspring, lrr_md]
baf_panels = [baf_father, baf_mother, baf_offspring]
segment_means = [-0.31, -0.11, -0.31, -0.04]

call_start, call_end = 51.639, 51.948
call_label = "state 332"

x_ticks = [50.5, 51.0, 51.5, 52.0, 52.5, 53.0]
x_tick_labels = ["", "51.0", "51.5", "52.0", "52.5", "53.0"]
x_title = "physical position (Mb)"
lrr_ticks = [1.0, 0.58496, 0.0, -1.0]
lrr_tick_labels = ["log₂(4/2)", "log₂(3/2)", "0", "−1"]
baf_ticks = [1.0, 0.5, 0.0]
baf_tick_labels = ["1", "0.5", "0"]

footer_lines = [
    "log{Pr(332 | . )/Pr(333 | . )}= 419.2–313.1",
    "=106.0",
    "overlapping min dist call: 333",
]

for arr in lrr_panels + baf_panels:
    assert len(arr) == len(pos_mb), (len(arr), len(pos_mb))

# ---------------------------------------------------------------- layout
W, H = 1204, 1126
H_MAIN = 1010                            # panels + tick labels
FL, FR, FT, FB = 122, 1144, 15, 955      # plotting frame on the page (px)
BOX_L, BOX_R = 124, 1142                 # panel box edges
PX_MB = 388.0                            # px per Mb
X0 = 51.0 - (325.3 - FL) / PX_MB
X1 = X0 + (FR - FL) / PX_MB
STEP = 234.25                            # panel pitch (strip + body)
STRIP_TOP0, STRIP_H = 17.0, 24.5
ZERO0 = 109.5                            # page y of log R ratio 0 in the first panel
LRR_PX = 45.5                            # px per log2 unit
BAF0_OFF, BAF_PX = 137.2, 64.0           # BAF 0 sits this far below LRR 0
LAST_BOTTOM = 953.0

FONT = "Liberation Sans"


def xv(px):
    return X0 + (px - FL) / PX_MB


def yv(py):
    return FB - py


p = figure(width=W, height=H_MAIN, output_backend="svg", toolbar_location=None,
           x_range=Range1d(X0, X1), y_range=Range1d(0, FB - FT),
           min_border_left=FL, min_border_right=W - FR,
           min_border_top=FT, min_border_bottom=H_MAIN - FB,
           x_axis_location="below", y_axis_location="left")
p.outline_line_color = None
p.xgrid.visible = False
p.ygrid.visible = False
p.background_fill_color = "white"
p.border_fill_color = "white"

extra = {}
for k in range(4):
    z = ZERO0 + k * STEP
    extra[f"lrr{k}"] = Range1d((z - FB) / LRR_PX, (z - FT) / LRR_PX)
    if k < 3:
        b0 = z + BAF0_OFF
        extra[f"baf{k}"] = Range1d((b0 - FB) / BAF_PX, (b0 - FT) / BAF_PX)
p.extra_y_ranges = extra

xl, xr = xv(BOX_L), xv(BOX_R)

# reference lines, points and segment means
for k in range(4):
    rn = f"lrr{k}"
    p.segment(x0=[xl] * 4, x1=[xr] * 4, y0=lrr_ticks, y1=lrr_ticks, y_range_name=rn,
              line_color="#c4c4c4", line_width=1.6, line_dash="7 7")
    p.scatter(x=pos_mb, y=lrr_panels[k], y_range_name=rn, marker="square", size=3,
              fill_color="#787878", line_color=None)
    if k < 3:
        bn = f"baf{k}"
        p.scatter(x=pos_mb, y=baf_panels[k], y_range_name=bn, marker="square", size=3,
                  fill_color="#0000ff", line_color=None)
        p.segment(x0=[xv(1128)] * 3, x1=[xr] * 3, y0=baf_ticks, y1=baf_ticks, y_range_name=bn,
                  line_color="#0000ff", line_width=2)
        p.text(x=[xv(1112.5)] * 3, y=baf_ticks, text=baf_tick_labels, y_range_name=bn,
               text_align="right", text_baseline="middle", text_color="#0000ff",
               text_font=value(FONT), text_font_size=value("18.5px"))
    p.segment(x0=[xl], x1=[xr], y0=[segment_means[k]], y1=[segment_means[k]], y_range_name=rn,
              line_color="black", line_width=3.5)

# call boundaries in the md panel
md_top = STRIP_TOP0 + 3 * STEP + STRIP_H
p.segment(x0=[call_start, call_end], x1=[call_start, call_end],
          y0=[yv(md_top)] * 2, y1=[yv(LAST_BOTTOM)] * 2,
          line_color="#ffa500", line_width=3)
p.text(x=[call_start], y=[yv(754.5)], x_offset=2, text=[call_label],
       text_align="left", text_baseline="middle", text_color="#0000ff",
       text_font=value(FONT), text_font_size=value("24px"))

# panel boxes and strips
for k in range(3):
    st = STRIP_TOP0 + k * STEP
    p.quad(left=xl, right=xr, top=yv(st + STRIP_H), bottom=yv(st + STEP),
           fill_color=None, line_color="black", line_width=2)
for k in range(4):
    st = STRIP_TOP0 + k * STEP
    p.quad(left=xl, right=xr, top=yv(st), bottom=yv(st + STRIP_H),
           fill_color="#ffe5cc", line_color="black", line_width=2)
    p.text(x=[(xl + xr) / 2], y=[yv(st + 12.6)], text=[panel_titles[k]],
           text_align="center", text_baseline="middle", text_color="black",
           text_font=value(FONT), text_font_size=value("19.5px"))
p.quad(left=xl, right=xr, top=yv(md_top), bottom=yv(LAST_BOTTOM),
       fill_color=None, line_color="#ff0000", line_width=2.5)


def style_axis(ax, tick_in, tick_out, size="19px"):
    ax.axis_line_color = None
    ax.major_tick_line_color = "black"
    ax.major_tick_line_width = 1.8
    ax.minor_tick_line_color = None
    ax.major_tick_in = tick_in
    ax.major_tick_out = tick_out
    ax.major_label_text_font = FONT
    ax.major_label_text_font_size = size
    ax.major_label_text_color = "black"


y_tick_pos, y_tick_text = [], {}
for k in range(4):
    z = ZERO0 + k * STEP
    for v, lab in zip(lrr_ticks, lrr_tick_labels):
        t = round(yv(z - v * LRR_PX), 3)
        y_tick_pos.append(t)
        y_tick_text[t] = lab

left = p.left[0]
left.ticker = FixedTicker(ticks=y_tick_pos)
left.major_label_overrides = y_tick_text
style_axis(left, 2, 12, "20px")
left.major_label_standoff = 15

right = LinearAxis(ticker=FixedTicker(ticks=y_tick_pos),
                   major_label_overrides={t: "" for t in y_tick_pos})
style_axis(right, 2, 13)
p.add_layout(right, "right")

bottom = p.below[0]
bottom.ticker = FixedTicker(ticks=x_ticks)
bottom.major_label_overrides = dict(zip(x_ticks, x_tick_labels))
style_axis(bottom, 2, 12)
bottom.major_label_standoff = 15

top = LinearAxis(ticker=FixedTicker(ticks=x_ticks),
                 major_label_overrides={t: "" for t in x_ticks})
style_axis(top, 2, 12)
p.add_layout(top, "above")

# ---------------------------------------------------------------- footer text
HF = H - H_MAIN


def span(txt, size, baseline, left=None, right=None, center=None):
    # absolute placement by baseline (line-height 1 puts the baseline ~0.8465 em below the top)
    top_px = baseline - H_MAIN - 0.8465 * size
    pos = f"top:{top_px:.1f}px;"
    if center is not None:
        pos += f"left:{center - 700}px;width:1400px;text-align:center;"
    elif right is not None:
        pos += f"right:{W - right}px;"
    else:
        pos += f"left:{left}px;"
    return (f'<span style="position:absolute;{pos}font-size:{size}px;line-height:1;'
            f'white-space:nowrap;color:#000;">{txt}</span>')


footer_html = (
    f'<div style="position:relative;width:{W}px;height:{HF}px;overflow:hidden;'
    f'font-family:\'{FONT}\',Arial,sans-serif;margin:0;padding:0;">'
    + span(x_title, 29.5, 1045.5, center=(BOX_L + BOX_R) / 2)
    + span(footer_lines[0], 27, 1074.4, right=1188)
    + span(footer_lines[1], 27, 1110.0, right=1188)
    + span(footer_lines[2], 24, 1119.5, left=1)
    + '</div>'
)
footer = Div(text=footer_html, width=W, height=HF, margin=(0, 0, 0, 0))

open("out.html", "w").write(file_html(column(p, footer, spacing=0), INLINE))
